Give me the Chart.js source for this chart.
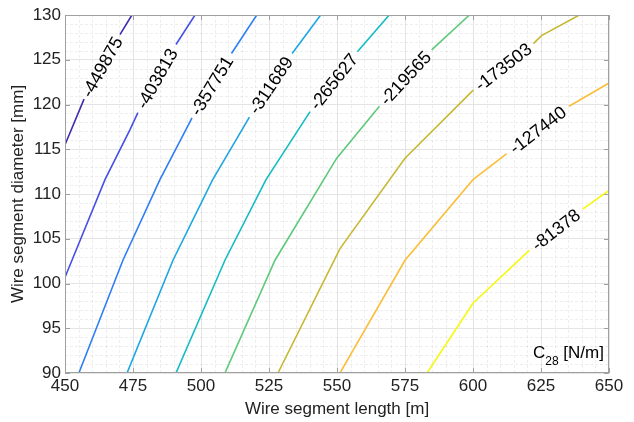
<!DOCTYPE html>
<html>
<head>
<meta charset="utf-8">
<script src="https://cdn.jsdelivr.net/npm/chart.js@4/dist/chart.umd.min.js"></script>
<style>
  html, body { margin: 0; padding: 0; background: #fff; }
  #wrap { width: 634px; height: 422px; position: relative; }
</style>
</head>
<body>
<div id="wrap"><canvas id="chartContour"></canvas></div>
<script>
// Contour levels of C28 [N/m]
const levels = [-449875, -403813, -357751, -311689, -265627, -219565, -173503, -127440, -81378];

// Contour paths (null = gap where the label sits)
const x449875 = [450, 457.0, null, 470.2, 474.6];
const y449875 = [115.5, 120.6, null, 127.8, 130];
const x403813 = [450, 464.7, 473.9, 476.8, null, 490.8, 497.8];
const y403813 = [100.7, 111.6, 117.2, 119.1, null, 126.7, 130];
const x357751 = [455.1, 471.3, 484.9, 496.7, null, 511.2, 520.5];
const y357751 = [90, 102.6, 111.6, 118.5, null, 125.7, 130];
const x311689 = [472.8, 489.7, 504.3, 517.8, null, 533.5, 544.0];
const y311689 = [90, 102.6, 111.6, 118.6, null, 125.7, 130];
const x265627 = [490.8, 508.8, 523.9, 540.1, null, 557.5, 569.2];
const y265627 = [90, 102.6, 111.6, 119.2, null, 125.9, 130];
const x219565 = [508.8, 527.2, 549.9, 565.6, null, 584.8, 598.7];
const y219565 = [90, 102.6, 114.0, 119.8, null, 126.1, 130];
const x173503 = [528.3, 551.1, 575.0, 600.1, null, 622.2, 625.2, 639.1];
const y173503 = [90, 103.9, 114.0, 121.6, null, 126.8, 127.7, 130];
const x127440 = [551.1, 575.0, 600.0, 612.4, null, 635.3, 650];
const y127440 = [90, 102.6, 111.6, 114.5, null, 119.8, 122.4];
const x81378 = [583.1, 600.0, 620.7, null, 640.3, 650];
const y81378 = [90, 97.8, 103.7, null, 108.3, 110.4];

const lineX = [x449875, x403813, x357751, x311689, x265627, x219565, x173503, x127440, x81378];
const lineY = [y449875, y403813, y357751, y311689, y265627, y219565, y173503, y127440, y81378];

// parula-like colours
const lineColors = ['#3e2cae', '#4650e4', '#2e7ef5', '#1ca6e2', '#12bcc2', '#5ec97a', '#c6b832', '#fbbe3a', '#f6f80f'];

const xTicks = [450, 475, 500, 525, 550, 575, 600, 625, 650];
const yTicks = [90, 95, 100, 105, 110, 115, 120, 125, 130];

const FONT = '"Liberation Sans", Arial, Helvetica, sans-serif';
const AXIS_GRAY = '#a0a0a0';
const TEXT = '#222';

// minor grid + box with inward ticks
const boxPlugin = {
    id: 'boxPlugin',
    beforeDatasetsDraw(chart) {
        const { ctx, chartArea: a, scales: { x, y } } = chart;
        ctx.save();
        ctx.strokeStyle = 'rgba(0,0,0,0.065)';
        ctx.lineWidth = 1;
        ctx.setLineDash([3, 2]);
        for (let v = 450; v <= 650; v += 5) {
            if (v % 25 === 0) continue;
            const px = Math.round(x.getPixelForValue(v)) + 0.5;
            ctx.beginPath(); ctx.moveTo(px, a.top); ctx.lineTo(px, a.bottom); ctx.stroke();
        }
        for (let v = 90; v <= 130; v += 1) {
            if (v % 5 === 0) continue;
            const py = Math.round(y.getPixelForValue(v)) + 0.5;
            ctx.beginPath(); ctx.moveTo(a.left, py); ctx.lineTo(a.right, py); ctx.stroke();
        }
        ctx.restore();
    },
    afterDraw(chart) {
        const { ctx, chartArea: a, scales: { x, y } } = chart;
        ctx.save();
        ctx.strokeStyle = AXIS_GRAY;
        ctx.lineWidth = 1;
        ctx.strokeRect(a.left + 0.5, a.top + 0.5, a.right - a.left - 1, a.bottom - a.top - 1);
        const len = 5;
        ctx.beginPath();
        xTicks.forEach(v => {
            const px = Math.round(x.getPixelForValue(v)) + 0.5;
            ctx.moveTo(px, a.bottom); ctx.lineTo(px, a.bottom - len);
            ctx.moveTo(px, a.top); ctx.lineTo(px, a.top + len);
        });
        yTicks.forEach(v => {
            const py = Math.round(y.getPixelForValue(v)) + 0.5;
            ctx.moveTo(a.left, py); ctx.lineTo(a.left + len, py);
            ctx.moveTo(a.right, py); ctx.lineTo(a.right - len, py);
        });
        ctx.stroke();

        // "C28 [N/m]" inside the axes, bottom right
        ctx.fillStyle = '#000';
        ctx.textBaseline = 'alphabetic';
        ctx.textAlign = 'left';
        let tx = 533, ty = 358;
        ctx.font = '17px ' + FONT;
        ctx.fillText('C', tx, ty);
        tx += ctx.measureText('C').width;
        ctx.font = '12px ' + FONT;
        ctx.fillText('28', tx, ty + 7);
        tx += ctx.measureText('28').width;
        ctx.font = '17px ' + FONT;
        ctx.fillText(' [N/m]', tx, ty);
        ctx.restore();
    }
};

// inline contour labels, centred in each line's gap
const contourLabels = {
    id: 'contourLabels',
    afterDatasetsDraw(chart) {
        const { ctx, scales: { x, y } } = chart;
        ctx.save();
        ctx.font = '18px ' + FONT;
        ctx.fillStyle = '#000';
        ctx.textAlign = 'center';
        ctx.textBaseline = 'middle';
        levels.forEach((lv, i) => {
            const xs = lineX[i], ys = lineY[i];
            const k = ys.indexOf(null);
            if (k < 1) return;
            const x0 = x.getPixelForValue(xs[k - 1]), y0 = y.getPixelForValue(ys[k - 1]);
            const x1 = x.getPixelForValue(xs[k + 1]), y1 = y.getPixelForValue(ys[k + 1]);
            const ang = Math.atan2(y1 - y0, x1 - x0);
            ctx.save();
            ctx.translate((x0 + x1) / 2, (y0 + y1) / 2);
            ctx.rotate(ang);
            ctx.fillText(String(lv), 0, 1);
            ctx.restore();
        });
        ctx.restore();
    }
};

const datasets = levels.map((lv, i) => ({
    label: String(lv),
    data: lineX[i].map((v, j) => ({ x: v, y: lineY[i][j] })),
    showLine: true,
    borderColor: lineColors[i],
    backgroundColor: lineColors[i],
    borderWidth: 1.6,
    pointRadius: 0,
    tension: 0,
    spanGaps: false
}));

new Chart(document.getElementById('chartContour'), {
    type: 'scatter',
    data: { datasets },
    options: {
        responsive: true,
        maintainAspectRatio: false,
        animation: false,
        events: [],
        layout: { padding: { top: 15, right: 25, left: 0, bottom: 0 } },
        plugins: { legend: { display: false }, tooltip: { enabled: false } },
        scales: {
            x: {
                type: 'linear',
                min: 450, max: 650,
                afterBuildTicks: s => { s.ticks = xTicks.map(v => ({ value: v })); },
                afterFit: s => { s.height = 49; },
                ticks: { color: TEXT, font: { family: FONT, size: 17 }, padding: 3, maxRotation: 0, autoSkip: false },
                grid: { color: '#e4e4e4', drawTicks: false },
                border: { display: false },
                title: { display: true, text: 'Wire segment length [m]', color: TEXT, font: { family: FONT, size: 17 }, padding: { top: 0, bottom: 2 } }
            },
            y: {
                type: 'linear',
                min: 90, max: 130,
                afterBuildTicks: s => { s.ticks = yTicks.map(v => ({ value: v })); },
                afterFit: s => { s.width = 65; },
                ticks: { color: TEXT, font: { family: FONT, size: 17 }, padding: 4, autoSkip: false },
                grid: { color: '#e4e4e4', drawTicks: false },
                border: { display: false },
                title: { display: true, text: 'Wire segment diameter [mm]', color: TEXT, font: { family: FONT, size: 17 }, padding: { top: 8, bottom: 0 } }
            }
        }
    },
    plugins: [boxPlugin, contourLabels]
});
</script>
</body>
</html>
